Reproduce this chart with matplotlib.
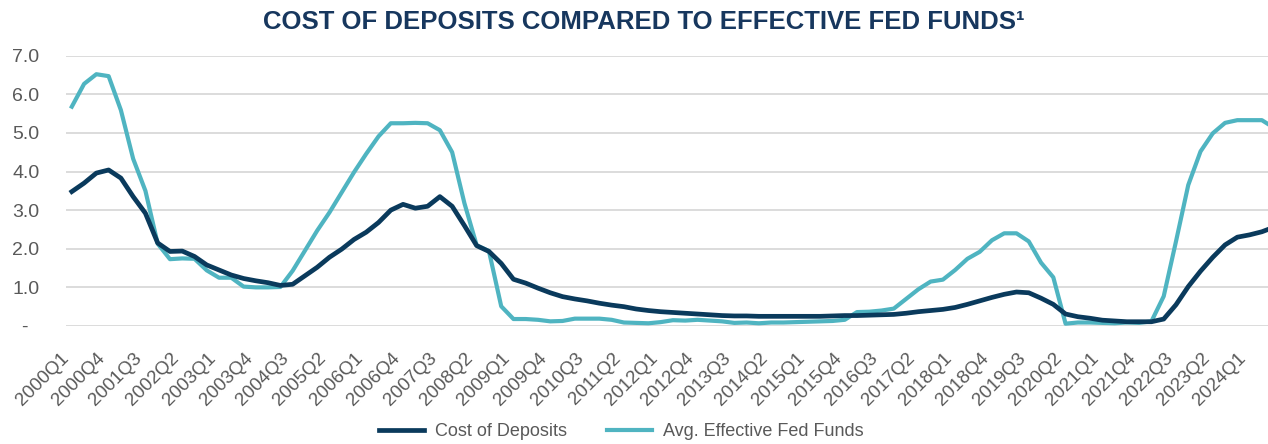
import matplotlib
matplotlib.use('Agg')
import matplotlib.pyplot as plt

plt.rcParams['font.family'] = ['Liberation Sans', 'DejaVu Sans']

# quarters 2000Q1 .. 2024Q3
quarters = [f'{y}Q{q}' for y in range(2000, 2025) for q in range(1, 5)][:99]

# Cost of deposits (%)
cost_of_deposits = [
    3.48, 3.70, 3.96, 4.04, 3.83, 3.35, 2.92, 2.15,
    1.93, 1.94, 1.80, 1.58, 1.45, 1.32, 1.23, 1.17,
    1.12, 1.05, 1.08, 1.30, 1.52, 1.78, 1.99, 2.24,
    2.43, 2.68, 3.00, 3.15, 3.05, 3.10, 3.35, 3.10,
    2.60, 2.08, 1.93, 1.62, 1.21, 1.11, 0.98, 0.86,
    0.76, 0.70, 0.65, 0.59, 0.54, 0.50, 0.44, 0.40,
    0.37, 0.35, 0.33, 0.31, 0.29, 0.27, 0.26, 0.26,
    0.25, 0.25, 0.25, 0.25, 0.25, 0.25, 0.26, 0.27,
    0.27, 0.28, 0.29, 0.30, 0.33, 0.37, 0.40, 0.43,
    0.48, 0.56, 0.65, 0.74, 0.82, 0.88, 0.86, 0.72,
    0.56, 0.31, 0.24, 0.20, 0.15, 0.13, 0.11, 0.11,
    0.11, 0.18, 0.55, 1.02, 1.42, 1.78, 2.10, 2.30,
    2.36, 2.44, 2.56,
]

# Avg. effective fed funds (%)
fed_funds = [
    5.68, 6.27, 6.52, 6.47, 5.59, 4.33, 3.50, 2.13,
    1.73, 1.75, 1.74, 1.44, 1.25, 1.25, 1.02, 1.00,
    1.00, 1.01, 1.43, 1.95, 2.47, 2.94, 3.46, 3.98,
    4.46, 4.91, 5.25, 5.25, 5.26, 5.25, 5.07, 4.50,
    3.18, 2.09, 1.94, 0.51, 0.18, 0.18, 0.16, 0.12,
    0.13, 0.19, 0.19, 0.19, 0.16, 0.09, 0.08, 0.07,
    0.10, 0.15, 0.14, 0.16, 0.14, 0.12, 0.08, 0.09,
    0.07, 0.09, 0.09, 0.10, 0.11, 0.12, 0.13, 0.16,
    0.36, 0.37, 0.40, 0.45, 0.70, 0.95, 1.15, 1.20,
    1.45, 1.74, 1.92, 2.22, 2.40, 2.40, 2.19, 1.64,
    1.26, 0.06, 0.09, 0.09, 0.08, 0.07, 0.09, 0.08,
    0.12, 0.77, 2.19, 3.65, 4.52, 4.99, 5.26, 5.33,
    5.33, 5.33, 5.13,
]

y_ticks = [0, 1, 2, 3, 4, 5, 6, 7]
y_labels = ['-  ', '1.0', '2.0', '3.0', '4.0', '5.0', '6.0', '7.0']

navy = '#0A3A5C'
teal = '#4FB4C1'
grey = '#595959'

fig = plt.figure(figsize=(12.68, 4.44), dpi=100)
ax = fig.add_axes([0.0518, 0.2658, 0.9482, 0.6088])

x = list(range(len(quarters)))
ax.plot(x, cost_of_deposits, color=navy, lw=3.4, label='Cost of Deposits',
        solid_joinstyle='round', zorder=3)
ax.plot(x, fed_funds, color=teal, lw=3.0, label='Avg. Effective Fed Funds',
        solid_joinstyle='round', zorder=2)

ax.set_xlim(-0.5, 97.5)
ax.set_ylim(0, 7)
ax.set_yticks(y_ticks)
ax.set_yticklabels(y_labels, fontsize=14, color=grey)
ax.set_xticks(x[::3])
ax.set_xticklabels(quarters[::3], rotation=45, ha='right', va='bottom',
                   rotation_mode='anchor', fontsize=13.5, color=grey)
ax.tick_params(axis='both', length=0)
ax.tick_params(axis='y', pad=19)
ax.tick_params(axis='x', pad=26)
ax.grid(axis='y', color='#D9D9D9', lw=1.3)
ax.set_axisbelow(True)
for s in ax.spines.values():
    s.set_visible(False)

fig.text(0.508, 0.95, 'COST OF DEPOSITS COMPARED TO EFFECTIVE FED FUNDS\u00b9',
         ha='center', va='center', fontsize=18.5, fontweight='bold', color='#17375E')

fig.legend(loc='center', bbox_to_anchor=(0.49, 0.028), ncol=2, frameon=False,
           fontsize=13, handlelength=2.5, columnspacing=2.2, handletextpad=0.6,
           labelcolor=grey)

fig.savefig('out.png', dpi=100)
